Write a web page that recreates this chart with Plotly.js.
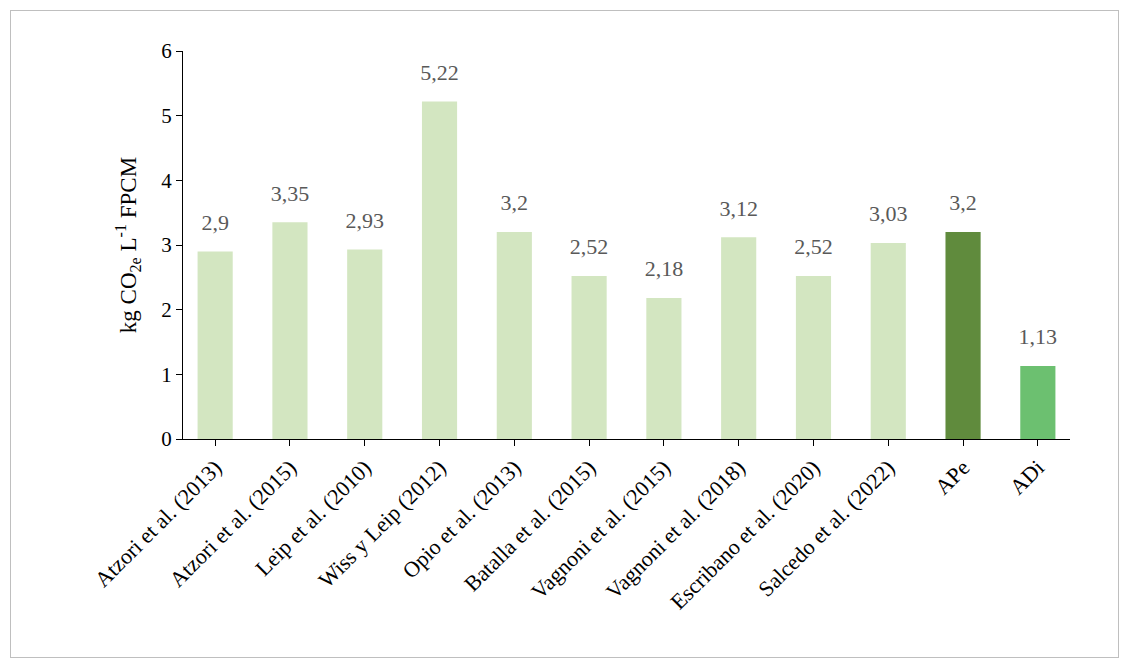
<!DOCTYPE html>
<html><head><meta charset="utf-8">
<script src="https://cdn.plot.ly/plotly-3.0.1.min.js"></script>
<style>
body{margin:0;background:#fff}
#box{position:absolute;left:10px;top:10px;width:1109px;height:648px;border:1px solid #bfbfbf;box-sizing:border-box}
#chart{width:1107px;height:646px}
</style></head><body>
<div id="box"><div id="chart"></div></div>
<script>
// studies and emission values (kg CO2e per litre FPCM)
const studies=["Atzori et al. (2013)","Atzori et al. (2015)","Leip et al. (2010)","Wiss y Leip (2012)","Opio et al. (2013)","Batalla et al. (2015)","Vagnoni et al. (2015)","Vagnoni et al. (2018)","Escribano et al. (2020)","Salcedo et al. (2022)","APe","ADi"];
const values=[2.9,3.35,2.93,5.22,3.2,2.52,2.18,3.12,2.52,3.03,3.2,1.13];
const colors=values.map((v,i)=>studies[i]==="APe"?"#608b3d":studies[i]==="ADi"?"#6cc070":"#d3e6c1");

const F="Liberation Serif, Times New Roman, serif";
Plotly.newPlot("chart",[{
  type:"bar",x:studies,y:values,marker:{color:colors},width:0.47,hoverinfo:"skip"
},{
  type:"scatter",mode:"text",x:studies,y:values.map(v=>v+0.42),
  text:values.map(v=>String(v).replace(".",",")),cliponaxis:false,
  textfont:{family:F,size:22,color:"#595959"},hoverinfo:"skip"
}],{
  width:1107,height:646,margin:{l:172,r:48,t:40,b:218},
  paper_bgcolor:"#fff",plot_bgcolor:"#fff",showlegend:false,
  font:{family:F,color:"#000"},
  xaxis:{range:[-0.43,11.43],tickangle:-45,tickfont:{family:F,size:22},showline:true,linecolor:"#000",ticks:"outside",ticklen:6,tickcolor:"#000",showgrid:false},
  yaxis:{range:[0,6],dtick:1,tickfont:{family:F,size:21},showline:true,linecolor:"#000",ticks:"outside",ticklen:6,tickcolor:"#000",showgrid:false,zeroline:false,
    title:{text:"kg CO<sub>2e</sub> L<sup>-1</sup> FPCM",font:{family:F,size:23},standoff:18}}
},{displayModeBar:false,staticPlot:true});
</script></body></html>
